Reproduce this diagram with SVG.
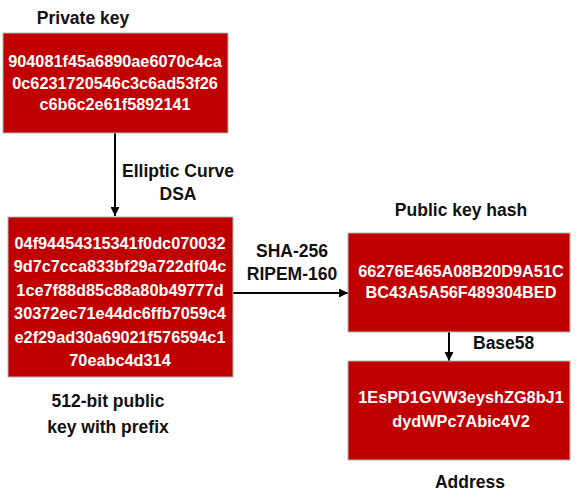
<svg xmlns="http://www.w3.org/2000/svg" width="580" height="504" viewBox="0 0 580 504">
<defs>
<marker id="arr" viewBox="0 0 10 10" refX="10" refY="5" markerWidth="9" markerHeight="9" markerUnits="userSpaceOnUse" orient="auto">
<path d="M0,0 L10,5 L0,10 z" fill="#000"/>
</marker>
<style>
.box{fill:#c00000;stroke:#b5b5b5;stroke-width:1}
.t{font-family:"Liberation Sans",Arial,sans-serif;font-weight:bold;font-size:16.3px;fill:#fff;text-anchor:middle}
.l{font-family:"Liberation Sans",Arial,sans-serif;font-weight:bold;font-size:17.5px;fill:#111;text-anchor:middle}
.c{stroke:#000;stroke-width:2;fill:none}
</style>
</defs>
<rect width="580" height="504" fill="#fff"/>
<g id="connectors">
<line class="c" x1="115" y1="133" x2="115" y2="216" marker-end="url(#arr)"/>
<line class="c" x1="233" y1="293" x2="348" y2="293" marker-end="url(#arr)"/>
<line class="c" x1="449" y1="332" x2="449" y2="361" marker-end="url(#arr)"/>
<text class="l" x="178" y="177">Elliptic Curve</text>
<text class="l" x="178" y="200">DSA</text>
<text class="l" x="292" y="257">SHA-256</text>
<text class="l" x="292" y="280">RIPEM-160</text>
<text class="l" x="473" y="349" style="text-anchor:start">Base58</text>
</g>
<g id="private-key">
<text class="l" x="83" y="24">Private key</text>
<rect class="box" x="3" y="33" width="225" height="100"/>
<text class="t" x="115" y="67">904081f45a6890ae6070c4ca</text>
<text class="t" x="115" y="89">0c6231720546c3c6ad53f26</text>
<text class="t" x="115" y="110">c6b6c2e61f5892141</text>
</g>
<g id="public-key">
<rect class="box" x="8" y="217" width="225" height="160"/>
<text class="t" x="120" y="249">04f94454315341f0dc070032</text>
<text class="t" x="120" y="272">9d7c7cca833bf29a722df04c</text>
<text class="t" x="120" y="296">1ce7f88d85c88a80b49777d</text>
<text class="t" x="120" y="319">30372ec71e44dc6ffb7059c4</text>
<text class="t" x="120" y="343">e2f29ad30a69021f576594c1</text>
<text class="t" x="120" y="366">70eabc4d314</text>
<text class="l" x="108" y="407">512-bit public</text>
<text class="l" x="108" y="433">key with prefix</text>
</g>
<g id="public-key-hash">
<text class="l" x="461" y="216">Public key hash</text>
<rect class="box" x="348" y="233" width="222" height="99"/>
<text class="t" x="461" y="277">66276E465A08B20D9A51C</text>
<text class="t" x="461" y="298">BC43A5A56F489304BED</text>
</g>
<g id="address">
<rect class="box" x="348" y="361" width="222" height="99"/>
<text class="t" x="461" y="403">1EsPD1GVW3eyshZG8bJ1</text>
<text class="t" x="461" y="427">dydWPc7Abic4V2</text>
<text class="l" x="470" y="488">Address</text>
</g>
</svg>
